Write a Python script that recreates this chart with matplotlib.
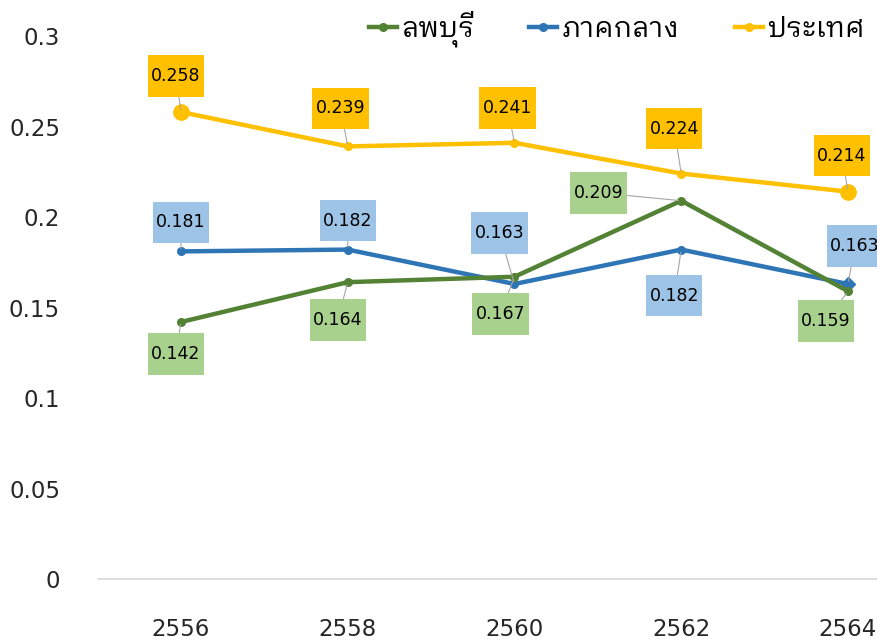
import matplotlib
matplotlib.use('Agg')
import matplotlib.pyplot as plt
from matplotlib import font_manager
from matplotlib.ft2font import FT2Font
import numpy as np

# data
years = ['2556', '2558', '2560', '2562', '2564']
lopburi = [0.142, 0.164, 0.167, 0.209, 0.159]
central = [0.181, 0.182, 0.163, 0.182, 0.163]
country = [0.258, 0.239, 0.241, 0.224, 0.214]
names = ['ลพบุรี', 'ภาคกลาง', 'ประเทศ']

# label offsets in pixels (dx, dy)
off_lop = [(-5, -32), (-10, -38), (-14, -37), (-83, 8), (-22, -30)]
off_cen = [(0, 29), (0, 29), (-15, 51), (-7, -46), (7, 38)]
off_cty = [(-5, 36), (-7, 38), (-7, 35), (-7, 45), (-6, 36)]


def find_thai_font():
    cands = []
    for f in font_manager.fontManager.ttflist:
        try:
            cm = FT2Font(f.fname).get_charmap()
        except Exception:
            continue
        if 0x0E25 in cm and 0x0E1E in cm:
            cands.append(f.name)
    # looped Thai glyphs look closer to the reference
    for c in cands:
        if 'Looped' in c:
            return c
    for c in cands:
        if 'Thai' in c:
            return c
    return cands[0] if cands else 'DejaVu Sans'


thai = find_thai_font()
plt.rcParams['font.family'] = ['DejaVu Sans']

c_green = '#548235'
c_blue = '#2E75B6'
c_yellow = '#FFC000'
box_green = '#A9D18E'
box_blue = '#9DC3E6'
box_yellow = '#FFC000'

fig = plt.figure(figsize=(8.77, 6.44), dpi=100)
ax = fig.add_axes([0.1113, 0.1009, 0.9507, 0.8432])
x = np.arange(len(years))

l_cen, = ax.plot(x, central, color=c_blue, lw=3.2, marker='o', ms=5.5, zorder=3, label=names[1])
ax.plot(x[-1:], central[-1:], ls='none', marker='D', ms=7, color=c_blue, zorder=3)
l_cty, = ax.plot(x, country, color=c_yellow, lw=3.2, marker='o', ms=5.5, zorder=3, label=names[2])
ax.plot(x[[0, -1]], [country[0], country[-1]], ls='none', marker='o', ms=11, color=c_yellow, zorder=3)
l_lop, = ax.plot(x, lopburi, color=c_green, lw=3.2, marker='o', ms=5.5, zorder=4, label=names[0])


def add_labels(vals, offs, fc):
    for i, (v, o) in enumerate(zip(vals, offs)):
        ax.annotate(f'{v:.3f}', xy=(x[i], v), xytext=o, textcoords='offset pixels',
                    ha='center', va='center', fontsize=12.5, color='black', zorder=6,
                    bbox=dict(boxstyle='square,pad=0.2', fc=fc, ec='none', mutation_aspect=3.4),
                    arrowprops=dict(arrowstyle='-', color='#A6A6A6', lw=0.8, shrinkA=0, shrinkB=2))


add_labels(country, off_cty, box_yellow)
add_labels(central, off_cen, box_blue)
add_labels(lopburi, off_lop, box_green)

ax.set_xlim(-0.5, len(years) - 0.5)
ax.set_ylim(0, 0.3)
ax.set_yticks(np.arange(0, 0.301, 0.05))
ax.set_yticklabels(['0', '0.05', '0.1', '0.15', '0.2', '0.25', '0.3'])
ax.set_xticks(x)
ax.set_xticklabels(years)
ax.tick_params(axis='both', length=0, labelsize=16.5, colors='#262626')
ax.tick_params(axis='y', pad=27)
ax.tick_params(axis='x', pad=28)
for s in ['top', 'right', 'left']:
    ax.spines[s].set_visible(False)
ax.spines['bottom'].set_color('#D9D9D9')
ax.spines['bottom'].set_linewidth(1.2)

leg = fig.legend(handles=[l_lop, l_cen, l_cty], loc='center', bbox_to_anchor=(0.703, 0.955),
                 ncol=3, frameon=False, handlelength=1.0, handletextpad=0.15, columnspacing=2.0,
                 prop={'family': [thai, 'DejaVu Sans'], 'size': 20})

fig.savefig('out.png', dpi=100)
